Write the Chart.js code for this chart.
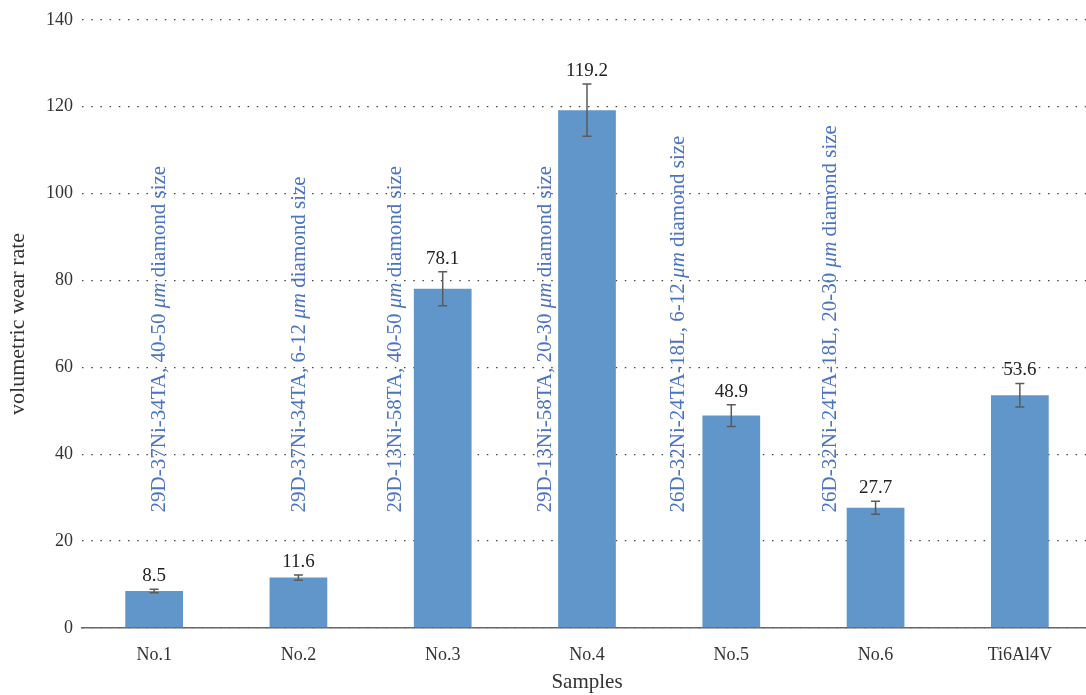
<!DOCTYPE html>
<html lang="en">
<head>
    <meta charset="UTF-8">
    <title>Volumetric wear rate</title>
    <script src="https://cdn.jsdelivr.net/npm/chart.js@4.4.0/dist/chart.umd.min.js"></script>
    <style>
        html, body { margin: 0; padding: 0; overflow: hidden; background: #fff; }
    </style>
</head>
<body>
<canvas id="wearChart" width="1092" height="695"></canvas>

<script>
    // samples and measured wear rates
    var samples = ['No.1', 'No.2', 'No.3', 'No.4', 'No.5', 'No.6', 'Ti6Al4V'];
    var wearRate = [8.5, 11.6, 78.1, 119.2, 48.9, 27.7, 53.6];
    var wearError = [0.4, 0.6, 3.9, 6.0, 2.5, 1.5, 2.7];
    var compositions = [
        '29D-37Ni-34TA, 40-50',
        '29D-37Ni-34TA, 6-12',
        '29D-13Ni-58TA, 40-50',
        '29D-13Ni-58TA, 20-30',
        '26D-32Ni-24TA-18L, 6-12',
        '26D-32Ni-24TA-18L, 20-30',
        null
    ];
    var yTicks = [0, 20, 40, 60, 80, 100, 120, 140];

    var SERIF = '"Liberation Serif", "Times New Roman", serif';
    // horizontal shift of each vertical note from its category centre (px)
    var noteShift = [4, 0, -49, -43, -54, -47, 0];

    // error bars + value labels on top of every bar
    var barExtras = {
        id: 'barExtras',
        afterDatasetsDraw: function(chart) {
            var ctx = chart.ctx;
            var y = chart.scales.y;
            var meta = chart.getDatasetMeta(0);
            ctx.save();
            meta.data.forEach(function(bar, i) {
                var top = y.getPixelForValue(wearRate[i] + wearError[i]);
                var bot = y.getPixelForValue(wearRate[i] - wearError[i]);
                ctx.strokeStyle = '#5b5b5b';
                ctx.lineWidth = 1.5;
                ctx.beginPath();
                ctx.moveTo(bar.x, top); ctx.lineTo(bar.x, bot);
                ctx.moveTo(bar.x - 4.5, top); ctx.lineTo(bar.x + 4.5, top);
                ctx.moveTo(bar.x - 4.5, bot); ctx.lineTo(bar.x + 4.5, bot);
                ctx.stroke();

                ctx.fillStyle = '#222';
                ctx.font = '19px ' + SERIF;
                ctx.textAlign = 'center';
                ctx.textBaseline = 'alphabetic';
                ctx.fillText(wearRate[i].toFixed(1), bar.x, top - 8);
            });
            ctx.restore();
        },
        afterDraw: function(chart) {
            var ctx = chart.ctx;
            var x = chart.scales.x;
            var y = chart.scales.y;
            var base = y.getPixelForValue(26.6);
            ctx.save();
            ctx.fillStyle = '#4a73c2';
            ctx.textBaseline = 'alphabetic';
            ctx.textAlign = 'left';
            compositions.forEach(function(c, i) {
                if (!c) return;
                var cx = x.getPixelForValue(i) + noteShift[i];
                ctx.save();
                ctx.translate(cx + 7, base);
                ctx.rotate(-Math.PI / 2);
                var pos = 0;
                var parts = [[c + ' ', 'normal'], ['\u03bcm', 'italic'], [' diamond size', 'normal']];
                parts.forEach(function(p) {
                    ctx.font = p[1] + ' 21px ' + SERIF;
                    ctx.fillText(p[0], pos, 0);
                    pos += ctx.measureText(p[0]).width;
                });
                ctx.restore();
            });
            ctx.restore();
        }
    };

    new Chart(document.getElementById('wearChart'), {
        type: 'bar',
        data: {
            labels: samples,
            datasets: [{
                data: wearRate,
                backgroundColor: '#6096c9',
                barPercentage: 0.4,
                categoryPercentage: 1.0
            }]
        },
        options: {
            responsive: false,
            animation: false,
            layout: { padding: { top: 6, right: 0, left: 0, bottom: 0 } },
            plugins: {
                legend: { display: false },
                tooltip: { enabled: false }
            },
            scales: {
                x: {
                    grid: { display: false },
                    border: { display: true, color: '#666', width: 1.5 },
                    ticks: { color: '#333', font: { family: SERIF, size: 18 }, padding: 8 },
                    title: { display: true, text: 'Samples', color: '#333', font: { family: SERIF, size: 21 }, padding: { top: 0, bottom: 0 } },
                    afterFit: function(scale) { scale.height = 67; }
                },
                y: {
                    min: 0,
                    max: 140,
                    afterBuildTicks: function(scale) {
                        scale.ticks = yTicks.map(function(v) { return { value: v }; });
                    },
                    grid: { color: '#444', lineWidth: 1.3, drawTicks: false },
                    border: { display: false, dash: [1.5, 7.7] },
                    ticks: { color: '#333', font: { family: SERIF, size: 18 }, padding: 9 },
                    title: { display: true, text: 'volumetric wear rate', color: '#333', font: { family: SERIF, size: 22 }, padding: { top: 5, bottom: 10 } },
                    afterFit: function(scale) { scale.width = 82; }
                }
            }
        },
        plugins: [barExtras]
    });
</script>
</body>
</html>
